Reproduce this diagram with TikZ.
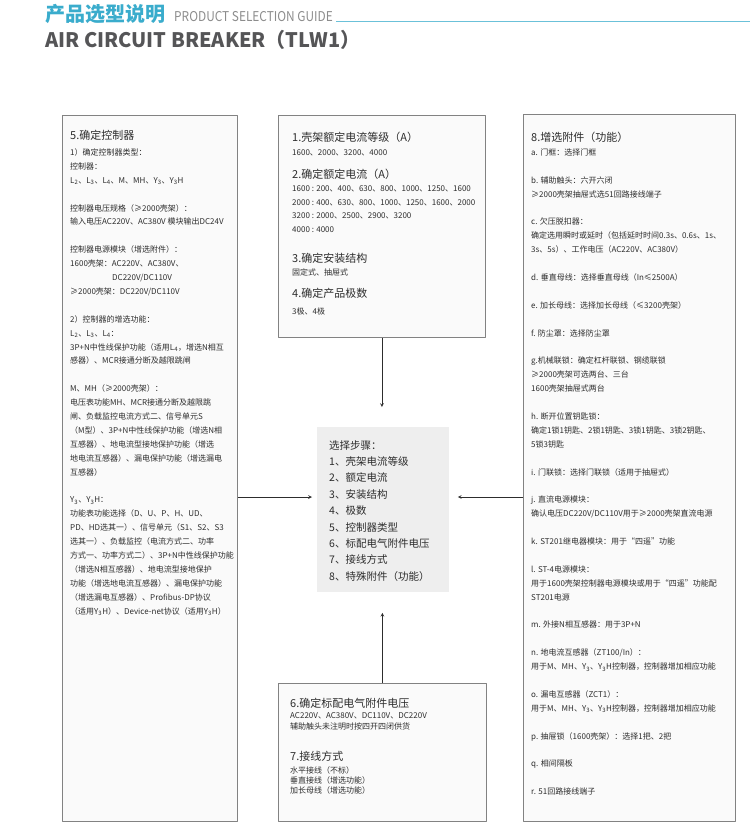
\documentclass[tikz,border=0pt]{standalone}
\usepackage{fontspec}
\setmainfont{Noto Sans CJK SC}
\usepackage{graphicx}
\definecolor{guidecyan}{RGB}{58,172,204}
\definecolor{guidegray}{RGB}{140,140,140}
\definecolor{titlegray}{RGB}{85,85,87}
\definecolor{boxline}{RGB}{130,130,130}
\definecolor{boxfill}{RGB}{250,250,250}
\definecolor{stepfill}{RGB}{238,238,238}
\definecolor{txtgray}{RGB}{45,45,45}
\newcommand{\sbs}[1]{\textsubscript{#1}}
\tikzset{
	panel/.style={draw=boxline, fill=boxfill, line width=0.8pt, inner sep=0pt, anchor=north west},
	hd/.style={anchor=base west, inner sep=0pt, text=txtgray, font=\fontsize{11}{13}\selectfont},
	txt/.style={anchor=north west, inner sep=0pt, text=txtgray, align=left, font=\fontsize{8}{13.9}\selectfont},
	arr/.style={->, draw=txtgray, line width=0.7pt},
}
\begin{document}
\begin{tikzpicture}[x=1pt, y=-1pt, >=stealth, line join=round]
	\useasboundingbox (0,0) rectangle (750,828);
	% header
	\node[anchor=base west, inner sep=0pt, text=guidecyan, font=\fontsize{20}{24}\selectfont\bfseries] (cnhead) at (45,21.5) {产品选型说明};
	\node[anchor=base west, inner sep=0pt, text=guidegray, font=\fontsize{13.5}{16}\selectfont] (enhead) at (174,21) {\scalebox{0.88}[1]{PRODUCT SELECTION GUIDE}};
	\coordinate (ruleend) at (750,21);
	\draw[guidecyan!75, line width=0.8pt] ([xshift=3pt]enhead.base east) -- (enhead.base east -| ruleend);
	\node[anchor=base west, inner sep=0pt, text=titlegray, font=\fontsize{20}{24}\selectfont\bfseries] (entitle) at (45,47) {AIR CIRCUIT BREAKER（TLW1）};
	% panels
	\node[panel, minimum width=175pt, minimum height=706pt] (ctrl) at (62,115) {};
	\node[panel, minimum width=207pt, minimum height=222pt] (rating) at (278,115) {};
	\node[panel, minimum width=208pt, minimum height=138pt] (volt) at (278,683) {};
	\node[panel, minimum width=212pt, minimum height=707pt] (acc) at (523,114) {};
	\node[panel, draw=none, fill=stepfill, minimum width=132pt, minimum height=165pt] (steps) at (317,427) {};
	% 5. controller
	\node[hd] (ctrlhd) at (70,139) {5.确定控制器};
	\node[txt] (ctrltxt) at (70,148.4) {1）确定控制器类型：\\
		控制器：\\
		L\sbs{2}、L\sbs{3}、L\sbs{4}、M、MH、Y\sbs{3}、Y\sbs{3}H\\[13.9pt]
		控制器电压规格（≥2000壳架）：\\
		输入电压AC220V、AC380V 模块输出DC24V\\[13.9pt]
		控制器电源模块（增选附件）：\\
		1600壳架：AC220V、AC380V、\\
		\hspace*{42pt}DC220V/DC110V\\
		≥2000壳架：DC220V/DC110V\\[13.9pt]
		2）控制器的增选功能：\\
		L\sbs{2}、L\sbs{3}、L\sbs{4}：\\
		3P+N中性线保护功能（适用L\sbs{4}，增选N相互\\
		感器）、MCR接通分断及越限跳闸\\[13.9pt]
		M、MH（≥2000壳架）：\\
		电压表功能MH、MCR接通分断及越限跳\\
		闸、负载监控电流方式二、信号单元S\\
		（M型）、3P+N中性线保护功能（增选N相\\
		互感器）、地电流型接地保护功能（增选\\
		地电流互感器）、漏电保护功能（增选漏电\\
		互感器）\\[13.9pt]
		Y\sbs{3}、Y\sbs{3}H：\\
		功能表功能选择（D、U、P、H、UD、\\
		PD、HD选其一）、信号单元（S1、S2、S3\\
		选其一）、负载监控（电流方式二、功率\\
		方式一、功率方式二）、3P+N中性线保护功能\\
		（增选N相互感器）、地电流型接地保护\\
		功能（增选地电流互感器）、漏电保护功能\\
		（增选漏电互感器）、Profibus-DP协议\\
		（适用Y\sbs{3}H）、Device-net协议（适用Y\sbs{3}H）};
	% 1.-4. frame, rating, mounting, poles
	\node[hd] (ratehd) at (292,141) {1.壳架额定电流等级（A）};
	\node[txt, anchor=base west] (ratetxt) at (292,155) {1600、2000、3200、4000};
	\node[hd] (currhd) at (292,178) {2.确定额定电流（A）};
	\node[txt, font=\fontsize{8}{13.7}\selectfont] (currtxt) at (292,185.4) {1600 : 200、400、630、800、1000、1250、1600\\
		2000 : 400、630、800、1000、1250、1600、2000\\
		3200 : 2000、2500、2900、3200\\
		4000 : 4000};
	\node[hd] (mounthd) at (292,262) {3.确定安装结构};
	\node[txt, anchor=base west] (mounttxt) at (292,275) {固定式、抽屉式};
	\node[hd] (polehd) at (292,297) {4.确定产品极数};
	\node[txt, anchor=base west] (poletxt) at (292,314) {3极、4极};
	% 6.-7. voltage, wiring
	\node[hd] (volthd) at (290,707) {6.确定标配电气附件电压};
	\node[txt, font=\fontsize{8}{11.2}\selectfont] (volttxt) at (290,712.4) {AC220V、AC380V、DC110V、DC220V\\
		辅助触头未注明时按四开四闭供货};
	\node[hd] (wirehd) at (290,760) {7.接线方式};
	\node[txt, font=\fontsize{8}{10.2}\selectfont] (wiretxt) at (290,766.4) {水平接线（不标）\\
		垂直接线（增选功能）\\
		加长母线（增选功能）};
	% 8. accessories
	\node[hd] (acchd) at (531,141) {8.增选附件（功能）};
	\node[txt] (acctxt) at (531,148.4) {a. 门框：选择门框\\[13.9pt]
		b. 辅助触头：六开六闭\\
		≥2000壳架抽屉式选51回路接线端子\\[13.9pt]
		c. 欠压脱扣器：\\
		确定选用瞬时或延时（包括延时时间0.3s、0.6s、1s、\\
		3s、5s）、工作电压（AC220V、AC380V）\\[13.9pt]
		d. 垂直母线：选择垂直母线（In≤2500A）\\[13.9pt]
		e. 加长母线：选择加长母线（≤3200壳架）\\[13.9pt]
		f. 防尘罩：选择防尘罩\\[13.9pt]
		g.机械联锁：确定杠杆联锁、钢缆联锁\\
		≥2000壳架可选两台、三台\\
		1600壳架抽屉式两台\\[13.9pt]
		h. 断开位置钥匙锁：\\
		确定1锁1钥匙、2锁1钥匙、3锁1钥匙、3锁2钥匙、\\
		5锁3钥匙\\[13.9pt]
		i. 门联锁：选择门联锁（适用于抽屉式）\\[13.9pt]
		j. 直流电源模块：\\
		确认电压DC220V/DC110V用于≥2000壳架直流电源\\[13.9pt]
		k. ST201继电器模块：用于“四遥”功能\\[13.9pt]
		l. ST-4电源模块：\\
		用于1600壳架控制器电源模块或用于“四遥”功能配\\
		ST201电源\\[13.9pt]
		m. 外接N相互感器：用于3P+N\\[13.9pt]
		n. 地电流互感器（ZT100/In）：\\
		用于M、MH、Y\sbs{3}、Y\sbs{3}H控制器，控制器增加相应功能\\[13.9pt]
		o. 漏电互感器（ZCT1）：\\
		用于M、MH、Y\sbs{3}、Y\sbs{3}H控制器，控制器增加相应功能\\[13.9pt]
		p. 抽屉锁（1600壳架）：选择1把、2把\\[13.9pt]
		q. 相间隔板\\[13.9pt]
		r. 51回路接线端子};
	% selection steps
	\node[anchor=north west, inner sep=0pt, text=txtgray, align=left, font=\fontsize{10.5}{16.4}\selectfont] (steptxt) at (329,440) {选择步骤：\\
		1、壳架电流等级\\
		2、额定电流\\
		3、安装结构\\
		4、极数\\
		5、控制器类型\\
		6、标配电气附件电压\\
		7、接线方式\\
		8、特殊附件（功能）};
	% arrows
	\coordinate (lvl) at (0,497);
	\draw[arr, shorten >=5pt] (ctrl.east |- lvl) -- (steps.west |- lvl);
	\draw[arr, shorten >=8pt] (acc.west |- lvl) -- (steps.east |- lvl);
	\draw[arr, shorten >=20pt] (rating.south) -- (rating.south |- steps.north);
	\draw[arr, shorten >=20pt] (volt.north) -- (volt.north |- steps.south);
\end{tikzpicture}
\end{document}
